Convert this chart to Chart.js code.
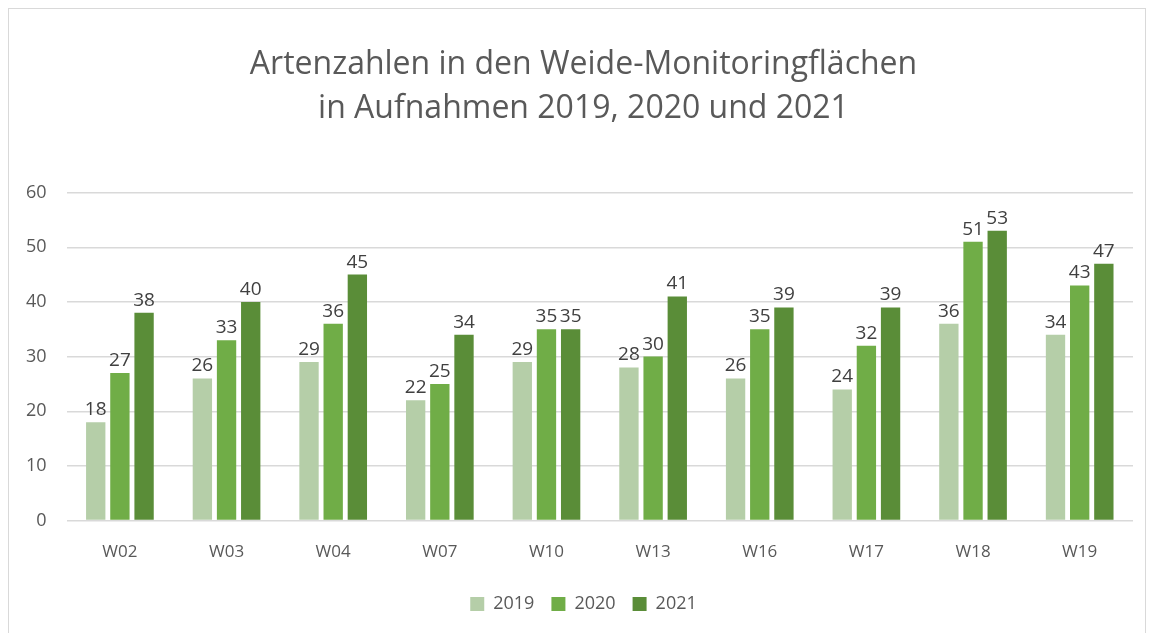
<!DOCTYPE html>
<html>
<head>
<meta charset="utf-8">
<script src="https://cdn.jsdelivr.net/npm/chart.js@4.4.0/dist/chart.umd.min.js"></script>
<style>
    body { margin: 0; background: #fff; }
    #wrap { position: absolute; left: 0; top: 0; width: 1154px; height: 633px; }
    #frame { position: absolute; left: 8px; top: 8px; width: 1138px; height: 640px; border: 1px solid #d9d9d9; box-sizing: border-box; }
</style>
</head>
<body>
<div id="wrap">
    <div id="frame"></div>
    <canvas id="myChart" width="1154" height="633"></canvas>
</div>
<script>
const flaechen = ["W02", "W03", "W04", "W07", "W10", "W13", "W16", "W17", "W18", "W19"]
const werte2019 = [18, 26, 29, 22, 29, 28, 26, 24, 36, 34]
const werte2020 = [27, 33, 36, 25, 35, 30, 35, 32, 51, 43]
const werte2021 = [38, 40, 45, 34, 35, 41, 39, 39, 53, 47]
const jahre = ["2019", "2020", "2021"]
const farben = ["#b5cea8", "#70ad47", "#5a8d38"]

//labels over the bars
let barLabels = {
    id: "barLabels",
    afterDatasetsDraw(chart) {
        let ctx = chart.ctx
        ctx.save()
        ctx.font = "19px 'Open Sans'"
        ctx.fillStyle = "#404040"
        ctx.textAlign = "center"
        ctx.textBaseline = "bottom"
        chart.data.datasets.forEach((ds, i) => {
            let meta = chart.getDatasetMeta(i)
            meta.data.forEach((bar, j) => {
                ctx.fillText(ds.data[j], bar.x, bar.y - 3)
            })
        })
        ctx.restore()
    }
}

//title + legend sit a bit right of the plot centre
let shiftBlocks = {
    id: "shiftBlocks",
    afterLayout(chart) {
        [chart.titleBlock, chart.legend].forEach(b => {
            if (!b) return
            b.left += 14
            b.right += 14
        })
    }
}

let reihen = [werte2019, werte2020, werte2021]
new Chart("myChart", {
    type: "bar",
    data: {
        labels: flaechen,
        datasets: reihen.map((r, i) => ({
            label: jahre[i],
            data: r,
            backgroundColor: farben[i],
            categoryPercentage: 0.68,
            barPercentage: 0.8
        }))
    },
    options: {
        responsive: false,
        animation: false,
        layout: { padding: { left: 6, right: 21, top: 42, bottom: 10 } },
        plugins: {
            title: {
                display: true,
                text: ["Artenzahlen in den Weide-Monitoringflächen", "in Aufnahmen 2019, 2020 und 2021"],
                color: "#595959",
                font: { family: "'Open Sans'", size: 32, weight: "normal", lineHeight: 1.4 },
                padding: { top: 0, bottom: 61 }
            },
            legend: {
                position: "bottom",
                labels: {
                    color: "#595959",
                    font: { family: "'Open Sans'", size: 18 },
                    boxWidth: 14,
                    boxHeight: 14,
                    padding: 17
                }
            },
            tooltip: { enabled: false }
        },
        scales: {
            x: {
                grid: { display: false },
                border: { display: false },
                ticks: { color: "#595959", font: { family: "'Open Sans'", size: 17 }, padding: 13 },
                afterFit: scale => { scale.height += 3 }
            },
            y: {
                min: 0,
                max: 60,
                ticks: { stepSize: 10, color: "#595959", font: { family: "'Open Sans'", size: 18 }, padding: 20 },
                grid: { color: "#d9d9d9", lineWidth: 1.5, drawTicks: false },
                border: { display: false }
            }
        }
    },
    plugins: [barLabels, shiftBlocks]
})
</script>
</body>
</html>
